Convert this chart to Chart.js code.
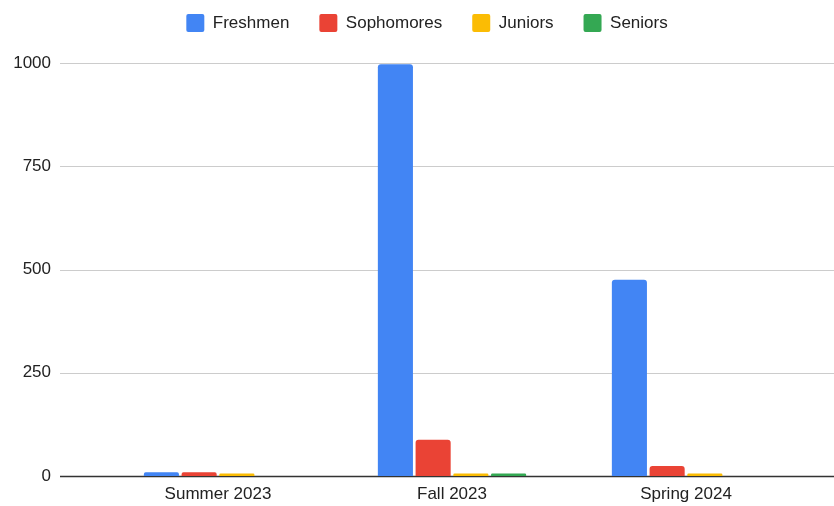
<!DOCTYPE html>
<html>
<head>
<meta charset="utf-8">
<script src="https://cdn.jsdelivr.net/npm/chart.js@4.4.0/dist/chart.umd.min.js"></script>
<style>
  html, body { margin: 0; padding: 0; background: #fff; }
  canvas { display: block; }
</style>
</head>
<body>
<canvas id="chart" width="834" height="506"></canvas>
<script>
const categories = ["Summer 2023", "Fall 2023", "Spring 2024"];
const freshmen = [9, 997, 475];
const sophomores = [9, 88, 24];
const juniors = [6, 6, 6];
const seniors = [0, 6, 0];
const yTicks = [0, 250, 500, 750, 1000];

const COLORS = ["#4285F4", "#EA4335", "#FBBC04", "#34A853"];
const FONT = "'Liberation Sans', Arial, sans-serif";

// gridlines run the full width, past the category area
const fullGrid = {
  id: "fullGrid",
  beforeDatasetsDraw(chart) {
    const { ctx } = chart;
    const y = chart.scales.y;
    ctx.save();
    yTicks.forEach((v) => {
      const py = Math.round(y.getPixelForValue(v)) + 0.5;
      ctx.beginPath();
      ctx.moveTo(60, py);
      ctx.lineTo(chart.width, py);
      ctx.lineWidth = v === 0 ? 1.5 : 1;
      ctx.strokeStyle = v === 0 ? "#333" : "#ccc";
      ctx.stroke();
    });
    ctx.restore();
  },
};

// fixed legend block height, and nudge the legend right like the original
const legendBox = {
  id: "legendBox",
  beforeInit(chart) {
    const fit = chart.legend.fit;
    chart.legend.fit = function () {
      fit.bind(chart.legend)();
      this.height = 79;
    };
  },
  afterLayout(chart) {
    chart.legend.left += 51;
  },
};

const names = ["Freshmen", "Sophomores", "Juniors", "Seniors"];
const series = [freshmen, sophomores, juniors, seniors];

new Chart(document.getElementById("chart"), {
  type: "bar",
  data: {
    labels: categories,
    datasets: series.map((d, i) => ({
      label: names[i],
      data: d,
      backgroundColor: COLORS[i],
      borderRadius: { topLeft: 3, topRight: 3 },
      borderSkipped: "bottom",
      categoryPercentage: 0.645,
      barPercentage: 0.93,
    })),
  },
  options: {
    responsive: false,
    animation: false,
    layout: { padding: { left: 0, right: 31, top: -16, bottom: 0 } },
    scales: {
      x: {
        grid: { display: false, drawTicks: false },
        border: { display: false },
        ticks: { color: "#222", font: { family: FONT, size: 17 }, padding: 8 },
        afterFit: (s) => { s.height = 30; },
      },
      y: {
        min: 0,
        max: 1000,
        afterBuildTicks: (s) => { s.ticks = yTicks.map((v) => ({ value: v })); },
        grid: { display: false, drawTicks: false },
        border: { display: false },
        ticks: {
          color: "#222",
          font: { family: FONT, size: 17 },
          padding: 50,
          callback: (v) => String(v),
        },
        afterFit: (s) => {
          s.width = 101;
          // tick padding should not push the plot edges in
          s.paddingTop = 10;
          s.paddingBottom = 10;
        },
      },
    },
    plugins: {
      legend: {
        position: "top",
        labels: {
          color: "#222",
          font: { family: FONT, size: 17 },
          boxWidth: 18,
          boxHeight: 18,
          padding: 30,
          useBorderRadius: true,
          borderRadius: 2,
        },
      },
      tooltip: { enabled: false },
    },
  },
  plugins: [fullGrid, legendBox],
});
</script>
</body>
</html>
